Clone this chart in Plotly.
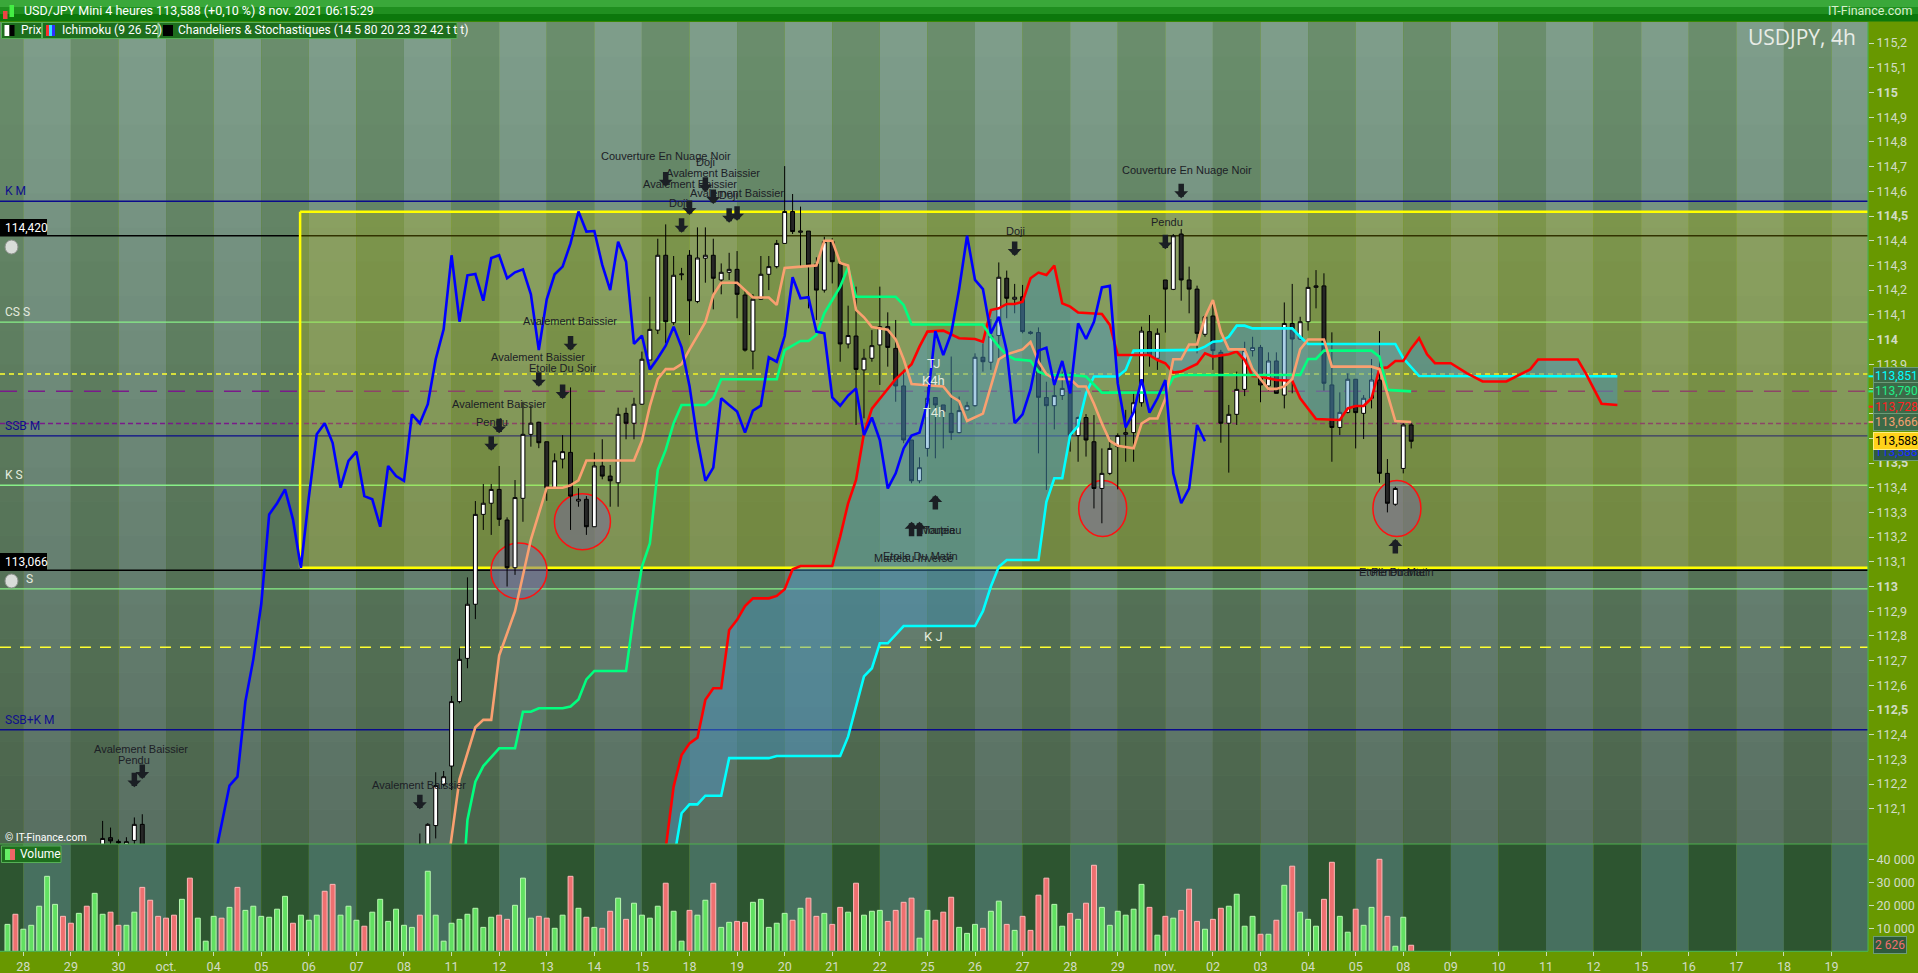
import plotly.graph_objects as go

W, H = 1918, 973

# ---------------------------------------------------------------- data
# 4h bars, numbered from the first bar on screen (bar 3 = 28 sept 00:00)
day_labels = ["28", "29", "30", "oct.", "04", "05", "06", "07", "08", "11", "12", "13",
              "14", "15", "18", "19", "20", "21", "22", "25", "26", "27", "28", "29",
              "nov.", "02", "03", "04", "05", "08", "09", "10", "11", "12", "15", "16",
              "17", "18", "19"]

candle_bar = [13, 14, 15, 16, 17, 18] + list(range(53, 179))
opens = [111.900, 111.983, 111.968, 111.955, 111.972, 112.037,
         111.950, 111.920, 112.032, 112.199, 112.273, 112.534, 112.709, 112.928, 113.292, 113.337,
         113.393, 113.269, 113.076, 113.357, 113.616, 113.665, 113.586, 113.400, 113.516, 113.543,
         113.346, 113.353, 113.242, 113.488, 113.447, 113.420, 113.701, 113.661, 113.738, 113.917,
         114.038, 114.341, 114.068, 114.262, 114.341, 114.154, 114.329, 114.341, 114.241, 114.272,
         114.284, 114.180, 113.953, 114.163, 114.264, 114.295, 114.389, 114.518, 114.434, 114.439,
         114.306, 114.200, 114.396, 114.306, 113.982, 114.014, 113.877, 113.924, 113.978, 114.052,
         113.964, 113.812, 113.593, 113.428, 113.559, 113.765, 113.735, 113.701, 113.623, 113.715,
         113.732, 113.928, 113.908, 114.016, 114.248, 114.163, 114.173, 114.030, 114.028, 113.765,
         113.732, 113.773, 113.829, 113.611, 113.684, 113.586, 113.397, 113.458, 113.566, 113.616,
         113.623, 113.744, 114.032, 113.924, 114.241, 114.203, 114.427, 114.241, 114.204, 114.021,
         114.095, 113.948, 113.661, 113.697, 113.798, 113.955, 113.968, 113.812, 113.913, 113.775,
         114.065, 114.002, 114.072, 114.211, 114.217, 113.816, 113.644, 113.705, 113.839, 113.701,
         113.762, 113.836, 113.458, 113.333, 113.478, 113.654]
highs = [112.051, 112.024, 111.976, 111.985, 112.065, 112.078,
         112.000, 112.042, 112.248, 112.253, 112.557, 112.750, 113.037, 113.346, 113.415, 113.415,
         113.488, 113.280, 113.431, 113.748, 113.732, 113.667, 113.586, 113.539, 113.613, 113.806,
         113.398, 113.366, 113.542, 113.596, 113.492, 113.724, 113.724, 113.764, 113.951, 114.173,
         114.408, 114.466, 114.338, 114.290, 114.362, 114.454, 114.454, 114.408, 114.308, 114.351,
         114.358, 114.200, 114.184, 114.338, 114.338, 114.403, 114.702, 114.589, 114.538, 114.439,
         114.333, 114.416, 114.410, 114.322, 114.137, 114.214, 113.962, 114.038, 114.214, 114.110,
         114.079, 113.877, 113.593, 113.523, 113.809, 113.765, 113.735, 113.931, 113.769, 113.748,
         113.944, 113.984, 114.083, 114.312, 114.279, 114.225, 114.221, 114.035, 114.049, 113.829,
         113.825, 113.870, 113.867, 113.688, 113.698, 113.694, 113.559, 113.600, 113.620, 113.715,
         113.786, 114.052, 114.099, 114.045, 114.241, 114.427, 114.447, 114.295, 114.218, 114.099,
         114.157, 113.958, 113.735, 113.870, 113.991, 114.011, 113.978, 113.948, 113.948, 114.150,
         114.225, 114.092, 114.250, 114.281, 114.268, 114.029, 113.786, 113.863, 113.839, 113.775,
         113.921, 114.034, 113.516, 113.404, 113.661, 113.661]
lows = [111.880, 111.940, 111.940, 111.930, 111.950, 111.850,
        111.820, 111.900, 111.980, 112.190, 112.176, 112.527, 112.669, 112.868, 113.229, 113.209,
        113.245, 113.000, 113.047, 113.262, 113.566, 113.560, 113.347, 113.400, 113.478, 113.229,
        113.323, 113.209, 113.242, 113.434, 113.323, 113.323, 113.596, 113.596, 113.735, 113.917,
        114.022, 113.985, 114.059, 114.240, 114.018, 114.147, 114.230, 114.122, 114.183, 114.241,
        114.086, 113.951, 113.879, 114.160, 114.200, 114.288, 114.389, 114.427, 114.295, 114.126,
        114.079, 114.190, 114.227, 113.910, 113.964, 113.654, 113.681, 113.910, 113.816, 113.890,
        113.748, 113.580, 113.418, 113.418, 113.526, 113.519, 113.559, 113.593, 113.620, 113.713,
        113.728, 113.870, 113.877, 113.917, 114.086, 114.106, 114.025, 114.020, 113.539, 113.391,
        113.636, 113.755, 113.546, 113.505, 113.526, 113.316, 113.256, 113.451, 113.393, 113.505,
        113.505, 113.728, 113.890, 113.877, 114.028, 114.200, 114.157, 114.106, 113.944, 114.011,
        113.877, 113.582, 113.461, 113.654, 113.771, 113.931, 113.746, 113.793, 113.782, 113.721,
        113.782, 113.998, 114.036, 114.126, 113.793, 113.505, 113.613, 113.701, 113.559, 113.597,
        113.721, 113.420, 113.300, 113.327, 113.458, 113.559]
closes = [111.980, 111.970, 111.962, 111.967, 112.037, 111.900,
          111.880, 112.037, 112.194, 112.230, 112.534, 112.705, 112.928, 113.292, 113.337, 113.393,
          113.272, 113.076, 113.360, 113.616, 113.661, 113.582, 113.400, 113.509, 113.546, 113.366,
          113.353, 113.242, 113.488, 113.447, 113.428, 113.697, 113.661, 113.738, 113.920, 114.041,
          114.341, 114.072, 114.260, 114.265, 114.157, 114.330, 114.341, 114.248, 114.272, 114.284,
          114.183, 113.957, 114.163, 114.264, 114.295, 114.389, 114.518, 114.437, 114.439, 114.302,
          114.200, 114.396, 114.315, 113.982, 114.016, 113.879, 113.924, 113.975, 114.052, 113.968,
          113.812, 113.593, 113.428, 113.481, 113.762, 113.735, 113.708, 113.623, 113.712, 113.732,
          113.928, 113.910, 114.014, 114.252, 114.167, 114.171, 114.032, 114.025, 113.766, 113.732,
          113.773, 113.802, 113.613, 113.684, 113.593, 113.397, 113.458, 113.559, 113.611, 113.623,
          113.744, 114.034, 113.937, 114.025, 114.204, 114.420, 114.241, 114.204, 114.025, 114.092,
          113.955, 113.661, 113.697, 113.798, 113.955, 113.967, 113.816, 113.913, 113.782, 114.065,
          114.002, 114.072, 114.211, 114.217, 113.823, 113.644, 113.705, 113.839, 113.704, 113.762,
          113.836, 113.458, 113.337, 113.397, 113.654, 113.588]

# volume of bars 1..178 and colour (g = up, r = down)
volume = [11700, 16100, 9600, 11300, 19600, 32600, 20400, 15200, 12200, 16500,
          19600, 25200, 16100, 17000, 11300, 11300, 17000, 27800, 22200, 15200,
          14400, 15700, 22600, 31800, 14400, 4400, 15200, 14400, 19100, 27800,
          17800, 19600, 15200, 14800, 18300, 23900, 12200, 15700, 13500, 15700,
          26100, 29100, 15700, 19600, 13500, 10900, 17000, 22600, 13000, 18300,
          11300, 10400, 15700, 34800, 15700, 4400, 12200, 13900, 16100, 18700,
          10400, 14800, 15700, 13900, 20000, 31800, 14400, 15200, 14400, 10000,
          15700, 32600, 18700, 14800, 10400, 10000, 17400, 23100, 13900, 20900,
          15700, 14400, 19600, 29600, 17400, 4400, 17800, 15700, 22200, 29600,
          10400, 12600, 13000, 12600, 21300, 22600, 10400, 12200, 16500, 13500,
          18700, 23100, 15200, 16500, 11700, 19100, 17000, 29600, 15700, 17400,
          17800, 13000, 17800, 21300, 23100, 5700, 17800, 13500, 17000, 23500,
          10400, 7800, 11700, 10000, 17400, 21800, 11700, 9100, 15200, 9100,
          24400, 31800, 20400, 10900, 16500, 13900, 20900, 37400, 19100, 11300,
          17400, 15700, 18300, 29100, 19100, 7000, 15200, 14400, 17800, 27000,
          13000, 9600, 13900, 18700, 19600, 24800, 10900, 15200, 7400, 7400,
          13500, 28700, 37000, 17000, 13900, 10900, 22600, 38700, 15200, 8300,
          18300, 11300, 19100, 40000, 15200, 2200, 14800, 2626]
volume_dir = ("grgggggrrg" "rggrrggrrr" "rrgrgggrgr" "ggggggrggg" "rrgggrgggg"
              "ggrggggggg" "ggrrgggrrg" "grgrgrrgrg" "gggrggrggr" "ggrrgggggr"
              "grrgrrgrgg" "grrrrggrrr" "gggrggrgrr" "rrggrgrrgg" "ggggrgrgrr"
              "rgrrggggrg" "rgrgggrrgg" "rggrrggr")

# Ichimoku lines (bar, value)
tenkan_bar = [56, 58, 60, 61, 62, 63, 65, 67, 69, 71, 72, 73, 74, 80, 81, 82, 83, 84, 85, 86,
              87, 89, 90, 91, 93, 95, 97, 98, 99, 103, 104, 105, 106, 107, 108, 109, 110, 112,
              113, 114, 115, 119, 120, 121, 122, 124, 125, 126, 127, 129, 130, 131, 132, 133,
              135, 136, 137, 138, 139, 140, 141, 143, 144, 145, 146, 147, 148, 149, 150, 151,
              152, 153, 154, 155, 157, 158, 159, 160, 161, 162, 163, 164, 165, 167, 168, 173,
              174, 175, 176, 178]
tenkan = [111.75, 112.22, 112.43, 112.46, 112.46, 112.72, 112.90, 113.19, 113.40, 113.40,
          113.41, 113.43, 113.51, 113.51, 113.59, 113.73, 113.84, 113.88, 113.88, 113.90,
          113.96, 114.07, 114.18, 114.23, 114.23, 114.17, 114.17, 114.14, 114.29, 114.30,
          114.40, 114.40, 114.31, 114.30, 114.12, 114.09, 114.05, 114.04, 114.00, 113.92,
          113.82, 113.81, 113.77, 113.75, 113.67, 113.70, 113.81, 113.92, 113.94, 113.96,
          113.99, 113.91, 113.86, 113.84, 113.84, 113.81, 113.81, 113.74, 113.66, 113.59,
          113.57, 113.56, 113.66, 113.68, 113.68, 113.76, 113.92, 113.92, 113.98, 113.98,
          114.09, 114.16, 114.03, 113.96, 113.96, 113.88, 113.84, 113.80, 113.80, 113.81,
          113.84, 113.96, 114.00, 114.00, 113.89, 113.89, 113.88, 113.78, 113.67, 113.666]

kijun_bar = [58, 59, 60, 61, 63, 65, 66, 67, 68, 71, 72, 73, 74, 75, 79, 80, 81, 82, 83, 84,
             85, 86, 89, 90, 91, 98, 99, 101, 102, 103, 104, 105, 106, 107, 108, 113, 114,
             115, 124, 125, 126, 127, 128, 130, 131, 132, 135, 137, 138, 139, 147, 148, 149,
             164, 165, 166, 167, 173, 174, 175, 178]
kijun = [111.60, 112.055, 112.21, 112.273, 112.345, 112.345, 112.493, 112.493, 112.507,
         112.507, 112.514, 112.543, 112.624, 112.658, 112.658, 112.891, 113.08, 113.174,
         113.472, 113.553, 113.661, 113.735, 113.735, 113.762, 113.839, 113.839, 113.957,
         113.994, 113.994, 114.018, 114.106, 114.16, 114.214, 114.291, 114.173, 114.173,
         114.14, 114.061, 114.061, 114.011, 113.971, 113.937, 113.92, 113.914, 113.87,
         113.856, 113.856, 113.85, 113.816, 113.785, 113.786, 113.847, 113.856, 113.856,
         113.921, 113.921, 113.955, 113.955, 113.93, 113.796, 113.79]

ssa_bar = [83, 84, 85, 86, 87, 88, 89, 90, 91, 92, 93, 94, 95, 97, 98, 99, 100, 101, 105, 106,
           107, 108, 109, 110, 111, 113, 115, 116, 117, 119, 121, 123, 124, 125, 126, 127, 128,
           129, 130, 131, 132, 133, 134, 135, 136, 139, 140, 141, 145, 146, 147, 148, 149,
           151, 152, 153, 155, 156, 157, 158, 159, 161, 163, 164, 166, 169, 170, 171, 172,
           173, 174, 175, 176, 177, 178, 179, 180, 181, 183, 185, 187, 190, 193, 194, 199,
           200, 202, 204]
ssa = [111.60, 111.94, 112.19, 112.318, 112.365, 112.388, 112.541, 112.588, 112.588, 112.824,
       112.865, 112.921, 112.952, 112.952, 112.962, 112.989, 113.07, 113.083, 113.083, 113.202,
       113.337, 113.431, 113.62, 113.72, 113.76, 113.84, 113.90, 113.971, 114.032, 114.036,
       114.005, 114.002, 113.991, 114.119, 114.126, 114.144, 114.144, 114.153, 114.248,
       114.271, 114.261, 114.299, 114.146, 114.133, 114.109, 114.103, 114.059, 113.937,
       113.937, 113.917, 113.904, 113.866, 113.87, 113.901, 113.944, 113.931, 113.94, 113.951,
       113.917, 113.852, 113.85, 113.836, 113.833, 113.762, 113.678, 113.674, 113.721,
       113.731, 113.731, 113.762, 113.883, 113.887, 113.913, 113.913, 113.964, 114.005,
       113.94, 113.904, 113.904, 113.864, 113.83, 113.83, 113.879, 113.919, 113.919, 113.864,
       113.74, 113.735]

ssb_bar = [84, 86, 87, 88, 89, 91, 92, 97, 98, 106, 107, 108, 109, 110, 111, 112, 114, 123,
           124, 125, 126, 127, 131, 132, 133, 134, 135, 136, 137, 138, 141, 142, 143, 151, 152,
           153, 154, 155, 156, 157, 158, 163, 164, 165, 176, 177, 178, 179, 204]
ssb = [111.70, 112.082, 112.118, 112.118, 112.153, 112.153, 112.305, 112.305, 112.314,
       112.314, 112.392, 112.514, 112.636, 112.669, 112.77, 112.77, 112.84, 112.84, 112.90,
       113.00, 113.08, 113.107, 113.107, 113.343, 113.438, 113.438, 113.613, 113.65, 113.782,
       113.85, 113.85, 113.877, 113.955, 113.958, 113.971, 113.991, 113.994, 114.011, 114.056,
       114.056, 114.045, 114.045, 114.011, 113.982, 113.982, 113.924, 113.89, 113.852, 113.851]

# horizontal levels
level_names = ["K M", "", "CS S", "TJ", "K4h", "T4h", "SSB M", "K S", "", "S", "K J", "SSB+K M"]
level_prices = [114.56, 114.42, 114.07, 113.86, 113.79, 113.66, 113.61, 113.41, 113.066,
                112.99, 112.754, 112.42]
level_kind = ["navy", "black", "green", "yshort", "plong", "pshort", "navy", "green", "black",
              "green", "ylong", "navy"]

zone_bar0, zone_low, zone_high = 37.9, 113.076, 114.517
circle_bar = [65.5, 73.5, 139.1, 176.2]
circle_price = [113.063, 113.262, 113.316, 113.316]
circle_wide = [False, False, True, True]

arrow_bar = [84, 89, 90, 87, 93, 92, 86, 72, 68, 71, 63, 62, 17, 18, 53, 128, 149, 147,
             115, 116, 118, 176]
arrow_price = [114.619, 114.598, 114.549, 114.504, 114.481, 114.473, 114.432, 113.955, 113.809,
               113.759, 113.620, 113.550, 112.187, 112.221, 112.098, 114.338, 114.572, 114.365,
               113.262, 113.262, 113.370, 113.192]
arrow_up = [False] * 18 + [True] * 4

pattern_text = ["Couverture En Nuage Noir", "Doji", "Avalement Baissier", "Avalement Baissier",
                "Avalement Baissier", "Doji", "Doji", "Avalement Baissier", "Avalement Baissier",
                "Etoile Du Soir", "Avalement Baissier", "Pendu", "Avalement Baissier", "Pendu",
                "Avalement Baissier", "Doji", "Couverture En Nuage Noir", "Pendu", "Toupie",
                "Marteau", "Etoile Du Matin", "Marteau Inversé", "Etoile Du Matin", "Pénétrante"]
pattern_bar = [84.0, 89.0, 90.0, 87.0, 93.0, 91.9, 85.6, 71.9, 67.9, 71.0, 63.0, 62.1, 17.8,
               16.9, 52.9, 128.1, 149.7, 147.2, 118.5, 118.7, 116.1, 115.2, 176.1, 176.3]
pattern_price = [114.744, 114.72, 114.675, 114.628, 114.594, 114.585, 114.551, 114.076, 113.930,
                 113.883, 113.740, 113.667, 112.342, 112.298, 112.196, 114.44, 114.687, 114.477,
                 113.229, 113.229, 113.123, 113.114, 113.06, 113.06]

price_ticks = [112.1, 112.2, 112.3, 112.4, 112.5, 112.6, 112.7, 112.8, 112.9, 113.0, 113.1,
               113.2, 113.3, 113.4, 113.5, 113.6, 113.7, 113.8, 113.9, 114.0, 114.1, 114.2,
               114.3, 114.4, 114.5, 114.6, 114.7, 114.8, 114.9, 115.0, 115.1, 115.2]
volume_ticks = [10000, 20000, 30000, 40000]

last_tags = [("113,851", 113.851, "#00ffff"), ("113,790", 113.790, "#22ee88"),
             ("113,728", 113.728, "#ff2020"), ("113,666", 113.666, "#f4a070")]
last_price = 113.588

# ---------------------------------------------------------------- layout helpers
X0, X1 = 0.06, 235.6
Y0, Y1 = 111.9575, 115.2854
PR = 1868


def px(x):
    return x / W


def py(y):
    return 1 - y / H


def fmt(v):
    s = ("%.1f" % v).replace(".", ",")
    s = s[:-2] if s.endswith(",0") else s
    return "<b>%s</b>" % s if round(v * 10) % 5 == 0 else s


shapes = []
ann = []

# day stripes
edges = [X0] + [3 + 6 * d for d in range(len(day_labels))] + [X1]
for i in range(len(edges) - 1):
    light = i % 2 == 1
    shapes.append(dict(type="rect", xref="x", yref="paper", x0=edges[i], x1=edges[i + 1],
                       y0=py(844), y1=py(22), line_width=0, layer="below",
                       fillcolor="#7f9f8c" if light else "#6b8f6d"))
    shapes.append(dict(type="rect", xref="x", yref="paper", x0=edges[i], x1=edges[i + 1],
                       y0=py(951.3), y1=py(844), line_width=0, layer="below",
                       fillcolor="#47705f" if light else "#2d5530"))
# darkening toward the bottom of the price panel
nb = 24
for i in range(nb):
    ya = 22 + (844 - 22) * i / nb
    yb = 22 + (844 - 22) * (i + 1) / nb
    shapes.append(dict(type="rect", xref="paper", yref="paper", x0=0, x1=px(PR),
                       y0=py(yb), y1=py(ya), line_width=0, layer="below",
                       fillcolor="rgba(0,0,0,%.3f)" % (0.30 * (i + 0.5) / nb)))

# yellow zone
shapes.append(dict(type="rect", xref="x", yref="y", x0=zone_bar0, x1=X1, y0=zone_low,
                   y1=zone_high, line_width=0, fillcolor="rgba(200,200,0,0.25)", layer="below"))
for (xa, xb, ya, yb) in [(zone_bar0, X1, zone_high, zone_high), (zone_bar0, X1, zone_low, zone_low),
                         (zone_bar0, zone_bar0, zone_low, zone_high)]:
    shapes.append(dict(type="line", xref="x", yref="y", x0=xa, x1=xb, y0=ya, y1=yb,
                       line=dict(color="#ffff00", width=2.5), layer="below"))

# horizontal levels
kind_style = {
    "navy": dict(color="#0a0a8c", width=1.4),
    "black": dict(color="#000000", width=1.4),
    "green": dict(color="#88f088", width=1.3),
    "yshort": dict(color="#ffff30", width=1.5, dash="5px,4px"),
    "ylong": dict(color="#ffff30", width=1.5, dash="11px,9px"),
    "plong": dict(color="#7a1a8a", width=1.5, dash="17px,11px"),
    "pshort": dict(color="#7a1a8a", width=1.5, dash="5px,3px"),
}
for name, p, k in zip(level_names, level_prices, level_kind):
    shapes.append(dict(type="line", xref="paper", yref="y", x0=0, x1=px(PR), y0=p, y1=p,
                       line=kind_style[k], layer="below"))
    if not name:
        continue
    mid = name in ("TJ", "K4h", "T4h", "K J")
    col = "#10108c" if k == "navy" else "#e4ebde"
    ann.append(dict(xref="x" if mid else "paper", yref="y",
                    x=117.8 if mid else px(24 if name == "S" else 3), y=p,
                    xanchor="center" if mid else "left", yanchor="bottom", yshift=1,
                    text=name, showarrow=False,
                    font=dict(family="Roboto", size=13 if mid else 12, color=col)))

# price boxes at the left
for p, t, yb in [(114.42, "114,420", 236), (113.066, "113,066", 570)]:
    shapes.append(dict(type="rect", xref="paper", yref="paper", x0=0, x1=px(47),
                       y0=py(yb), y1=py(yb - 17), fillcolor="#000000", line_width=0))
    ann.append(dict(xref="paper", yref="paper", x=px(3), y=py(yb - 8.5), xanchor="left",
                    yanchor="middle", text=t, showarrow=False,
                    font=dict(family="Roboto", size=12, color="#ffffff")))
    shapes.append(dict(type="circle", xref="paper", yref="paper", x0=px(5), x1=px(18),
                       y0=py(yb + 18), y1=py(yb + 4), fillcolor="#d8dcd8",
                       line=dict(color="#8a908a", width=1)))

# highlighted circles
for b, p, wide in zip(circle_bar, circle_price, circle_wide):
    rx = 24 if wide else 28
    shapes.append(dict(type="circle", xref="x", yref="y", xsizemode="pixel", ysizemode="pixel",
                       xanchor=b, yanchor=p, x0=-rx, x1=rx, y0=-28, y1=28,
                       fillcolor="rgba(120,105,160,0.5)", line=dict(color="#ff1010", width=1.5),
                       layer="below"))

# ---------------------------------------------------------------- traces
fig = go.Figure()

cloud_x = ssa_bar + ssb_bar[::-1]
cloud_y = ssa + ssb[::-1]
fig.add_trace(go.Scatter(x=cloud_x, y=cloud_y, fill="toself", mode="none",
                         fillcolor="rgba(70,150,200,0.45)", hoverinfo="skip"))

fig.add_trace(go.Candlestick(
    x=candle_bar, open=opens, high=highs, low=lows, close=closes, whiskerwidth=0,
    increasing=dict(fillcolor="#ffffff", line=dict(color="#000000", width=1)),
    decreasing=dict(fillcolor="#262626", line=dict(color="#000000", width=1)),
    hoverinfo="skip"))

chikou_x = [b - 26 for b in candle_bar if b >= 53]
chikou_y = [c for b, c in zip(candle_bar, closes) if b >= 53]
for xs, ys, col in [(ssb_bar, ssb, "#00ffff"), (ssa_bar, ssa, "#ff0000"),
                    (kijun_bar, kijun, "#00ff7f"), (tenkan_bar, tenkan, "#f9a070"),
                    (chikou_x, chikou_y, "#0000ff")]:
    fig.add_trace(go.Scatter(x=xs, y=ys, mode="lines", line=dict(color=col, width=2.6),
                             hoverinfo="skip"))

vol_x = list(range(1, len(volume) + 1))
fig.add_trace(go.Bar(
    x=vol_x, y=volume, yaxis="y2", width=0.62,
    marker=dict(color=["#62e062" if c == "g" else "#ee7070" for c in volume_dir],
                line=dict(color=["#b8f8b0" if c == "g" else "#ffb8b8" for c in volume_dir],
                          width=1)),
    hoverinfo="skip"))

# pattern arrows and names
for b, p, up in zip(arrow_bar, arrow_price, arrow_up):
    ann.append(dict(x=b, y=p, xref="x", yref="y", text="", showarrow=True, ax=0,
                    ay=16 if up else -16, arrowhead=1, arrowsize=0.42, arrowwidth=5.5,
                    arrowcolor="#1b1f24", standoff=0))
for t, b, p in zip(pattern_text, pattern_bar, pattern_price):
    ann.append(dict(x=b, y=p, xref="x", yref="y", text=t, showarrow=False,
                    font=dict(family="Liberation Sans", size=11, color="#1c2026")))

# right axis tags
for t, v, col in last_tags:
    shapes.append(dict(type="line", xref="paper", yref="y", x0=px(PR), x1=px(1873), y0=v, y1=v,
                       line=dict(color=col, width=2)))
    ann.append(dict(xref="paper", yref="y", x=px(1873), y=v, xanchor="left", yanchor="middle",
                    text=t, showarrow=False, bgcolor="#3c6a48", bordercolor="#6c9c78",
                    borderwidth=1, borderpad=1, font=dict(family="Roboto", size=12, color=col)))
ann.append(dict(xref="paper", yref="y", x=px(1873), y=last_price, yshift=-11, xanchor="left",
                yanchor="middle", text="113,588", showarrow=False, bgcolor="#2f5a40",
                bordercolor="#6c9c78", borderwidth=1, borderpad=1,
                font=dict(family="Roboto", size=12, color="#1a2aff")))
ann.append(dict(xref="paper", yref="y", x=px(1873), y=last_price, xanchor="left",
                yanchor="middle", text="113,588", showarrow=False, bgcolor="#ffd21a",
                bordercolor="#fff080", borderwidth=1, borderpad=1,
                font=dict(family="Roboto", size=12, color="#000000")))
ann.append(dict(xref="paper", yref="y2", x=px(1873), y=volume[-1], xanchor="left",
                yanchor="middle", text="2 626", showarrow=False, bgcolor="#2e5a3c",
                bordercolor="#6c9c78", borderwidth=1, borderpad=1,
                font=dict(family="Roboto", size=12, color="#f07070")))

# ---------------------------------------------------------------- chrome
for y0, y1, c in [(0, 7, "#3aa83a"), (7, 14, "#208f20"), (14, 21.5, "#0c780c")]:
    shapes.append(dict(type="rect", xref="paper", yref="paper", x0=0, x1=1, y0=py(y1), y1=py(y0),
                       fillcolor=c, line_width=0))
shapes.append(dict(type="rect", xref="paper", yref="paper", x0=px(3), x1=px(7.5), y0=py(19),
                   y1=py(11), fillcolor="#ee4444", line_width=0))
shapes.append(dict(type="rect", xref="paper", yref="paper", x0=px(9.5), x1=px(14), y0=py(17),
                   y1=py(5), fillcolor="#44ee44", line_width=0))
ann.append(dict(xref="paper", yref="paper", x=px(22), y=py(10.5), xanchor="left", yanchor="middle",
                text="USD/JPY Mini 4 heures 113,588 (+0,10 %) 8 nov. 2021 06:15:29",
                showarrow=False, font=dict(family="Roboto", size=12.5, color="#ffffff")))
ann.append(dict(xref="paper", yref="paper", x=px(1914), y=py(10.5), xanchor="right",
                yanchor="middle", text="IT-Finance.com", showarrow=False,
                font=dict(family="Roboto", size=12.5, color="#d8f0cc")))

legend_boxes = [(1.5, 41.5, "Prix"), (42.5, 157.5, "Ichimoku (9 26 52)"),
                (159, 457, "Chandeliers & Stochastiques (14 5 80 20 23 32 42 t t t)")]
for xa, xb, t in legend_boxes:
    shapes.append(dict(type="rect", xref="paper", yref="paper", x0=px(xa), x1=px(xb), y0=py(38.5),
                       y1=py(22.5), fillcolor="#1e6e1e", line=dict(color="#56b056", width=1)))
    ann.append(dict(xref="paper", yref="paper", x=px(xa + 17), y=py(30.5), xanchor="left",
                    yanchor="middle", text=t, showarrow=False,
                    font=dict(family="Roboto", size=12, color="#ffffff")))
for xa, xb, c in [(4.5, 9.5, "#ffffff"), (9.5, 14.5, "#000000"), (46, 49, "#ff3030"),
                  (49, 52, "#30e0ff"), (52, 55, "#3030ff"), (163, 173, "#000000")]:
    shapes.append(dict(type="rect", xref="paper", yref="paper", x0=px(xa), x1=px(xb), y0=py(36),
                       y1=py(25), fillcolor=c, line_width=0))

ann.append(dict(xref="paper", yref="paper", x=px(1858), y=py(37), xanchor="right",
                yanchor="middle", text="USDJPY, 4h", showarrow=False,
                font=dict(family="Open Sans", size=21, color="#e8ece6")))
ann.append(dict(xref="paper", yref="paper", x=px(3), y=py(837), xanchor="left", yanchor="middle",
                text="© IT-Finance.com", showarrow=False,
                font=dict(family="Roboto", size=10.5, color="#ffffff")))

# volume panel legend and borders
shapes.append(dict(type="rect", xref="paper", yref="paper", x0=px(1.5), x1=px(61), y0=py(862.5),
                   y1=py(846), fillcolor="#1e6e1e", line=dict(color="#56b056", width=1)))
shapes.append(dict(type="rect", xref="paper", yref="paper", x0=px(5), x1=px(10), y0=py(860),
                   y1=py(849), fillcolor="#66ee66", line_width=0))
shapes.append(dict(type="rect", xref="paper", yref="paper", x0=px(10), x1=px(15), y0=py(860),
                   y1=py(849), fillcolor="#ee6666", line_width=0))
ann.append(dict(xref="paper", yref="paper", x=px(18), y=py(854), xanchor="left", yanchor="middle",
                text="Volume", showarrow=False,
                font=dict(family="Roboto", size=12, color="#ffffff")))
for y in (844, 951.3):
    shapes.append(dict(type="line", xref="paper", yref="paper", x0=0, x1=px(PR), y0=py(y), y1=py(y),
                       line=dict(color="#4cb04c", width=1.2)))
shapes.append(dict(type="line", xref="paper", yref="paper", x0=px(PR), x1=px(PR), y0=py(951.3),
                   y1=py(22), line=dict(color="#4cb04c", width=1.2)))

tick_font = dict(family="Roboto", size=12.5, color="#d2dcc6")
fig.update_layout(
    width=W, height=H, autosize=False, margin=dict(l=0, r=0, t=0, b=0),
    paper_bgcolor="#689800", plot_bgcolor="rgba(0,0,0,0)", showlegend=False,
    separators=", ", hovermode=False, shapes=shapes, annotations=ann, barmode="overlay",
    xaxis=dict(domain=[0, px(PR)], range=[X0, X1], anchor="y2", showgrid=False, zeroline=False,
               rangeslider=dict(visible=False), tickvals=[3 + 6 * d for d in range(len(day_labels))],
               ticktext=day_labels, ticks="outside", ticklen=4, tickcolor="#c8dcb8",
               tickfont=tick_font, showline=False),
    yaxis=dict(domain=[py(844), py(22)], range=[Y0, Y1], side="right", anchor="x",
               showgrid=False, zeroline=False, tickvals=price_ticks,
               ticktext=[fmt(v) for v in price_ticks], ticks="outside", ticklen=5,
               tickcolor="#c8dcb8", tickfont=tick_font),
    yaxis2=dict(domain=[py(951.3), py(844)], range=[0, 46650], side="right", anchor="x",
                showgrid=False, zeroline=False, tickvals=volume_ticks, tickformat=",d",
                ticks="outside", ticklen=5, tickcolor="#c8dcb8", tickfont=tick_font),
)

# the page body keeps its default 8px margin otherwise
fig.write_html("out.html", config={"displayModeBar": False},
               post_script="document.body.style.margin='0';document.body.style.overflow='hidden';")
